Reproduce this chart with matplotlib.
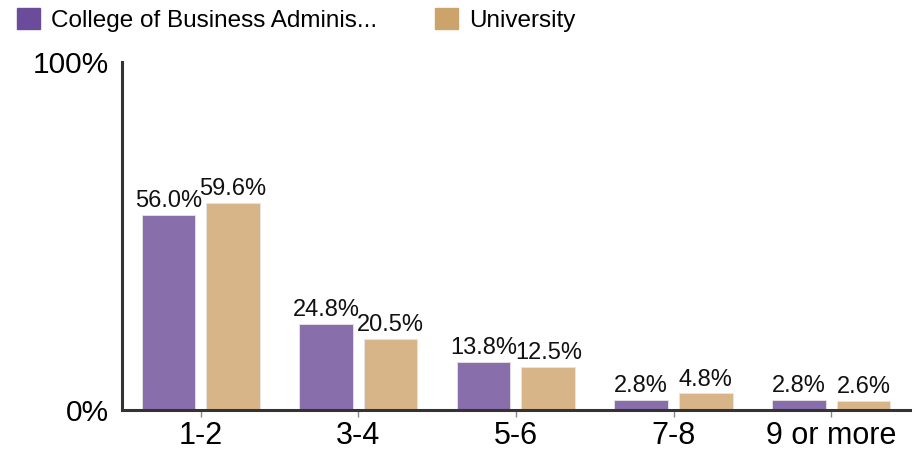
import matplotlib
matplotlib.use("Agg")
import matplotlib.pyplot as plt
import matplotlib.patches as mpatches
import numpy as np

plt.rcParams['font.family'] = ['Liberation Sans', 'DejaVu Sans']

categories = ['1-2', '3-4', '5-6', '7-8', '9 or more']
college = [56.0, 24.8, 13.8, 2.8, 2.8]
university = [59.6, 20.5, 12.5, 4.8, 2.6]
series_names = ['College of Business Adminis...', 'University']

bar_colors = ['#886EAB', '#D7B589']
swatch_colors = ['#6B4C9A', '#CCA36B']

fig = plt.figure(figsize=(9.15, 4.51), dpi=100)
ax = fig.add_axes([0.1333, 0.0909, 0.8612, 0.7716])

x = np.arange(len(categories))
w = 0.34
off = 0.205
for vals, dx, col in [(college, -off, bar_colors[0]), (university, off, bar_colors[1])]:
    bars = ax.bar(x + dx, vals, w, color=col, edgecolor='#e6e6e6', linewidth=0.6, zorder=2)
    for b, v in zip(bars, vals):
        ax.text(b.get_x() + b.get_width() / 2, v + 0.8, f'{v:.1f}%',
                ha='center', va='bottom', fontsize=17, color='#111111')

ax.set_xlim(-0.5, len(categories) - 0.5)
ax.set_ylim(0, 100)
ax.set_yticks([0, 100])
ax.set_yticklabels(['0%', '100%'], fontsize=21.5)
ax.set_xticks(x)
ax.set_xticklabels(categories, fontsize=22)
ax.tick_params(axis='y', length=0, pad=9)
ax.tick_params(axis='x', length=5, width=1, color='#888888', pad=3)

for s in ['top', 'right']:
    ax.spines[s].set_visible(False)
for s in ['left', 'bottom']:
    ax.spines[s].set_color('#333333')
    ax.spines[s].set_linewidth(2.2)

handles = [mpatches.Patch(color=c, label=n) for c, n in zip(swatch_colors, series_names)]
fig.legend(handles=handles, loc='upper left', bbox_to_anchor=(0.003, 1.015), ncol=2,
           frameon=False, fontsize=17.5, handlelength=0.95, handleheight=0.95,
           handletextpad=0.45, columnspacing=2.35, borderaxespad=0.2)

fig.savefig('out.png', dpi=100)
